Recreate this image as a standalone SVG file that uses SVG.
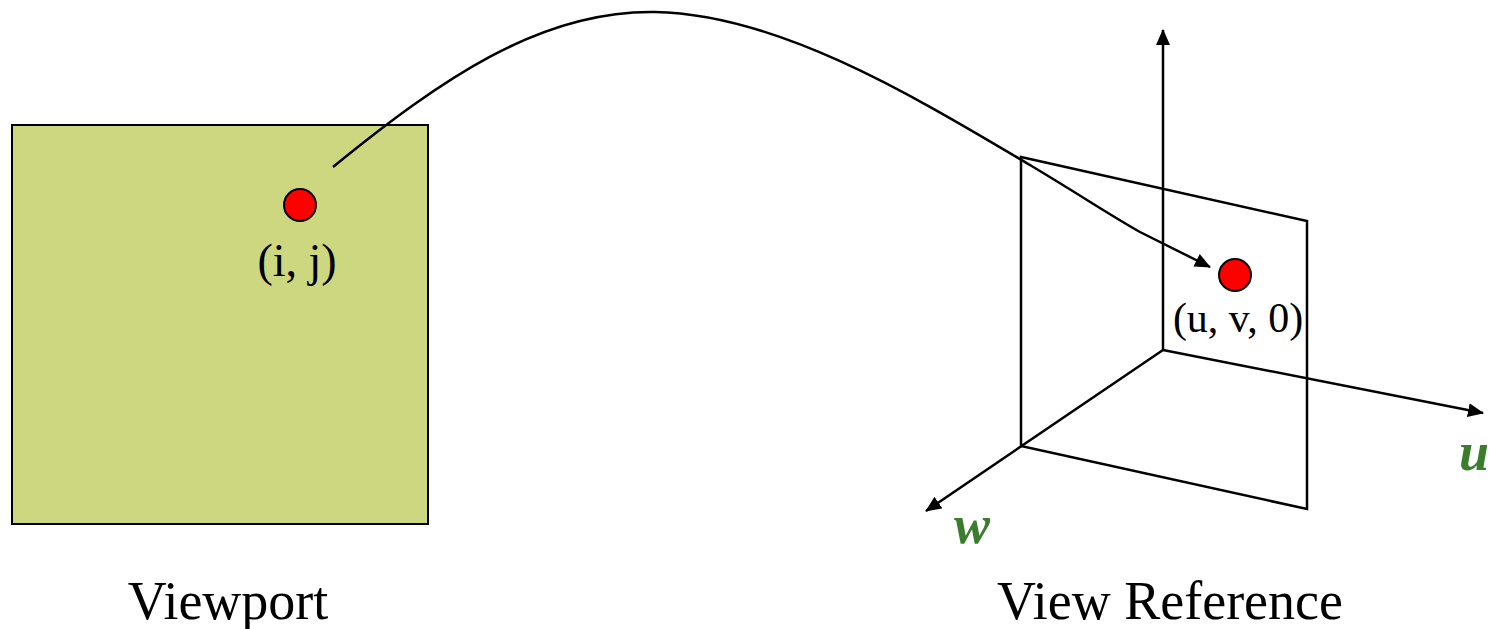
<svg xmlns="http://www.w3.org/2000/svg" width="1495" height="629" viewBox="0 0 1495 629">
<style>
.ln{stroke:#000;stroke-width:2.5;fill:none}
.dot{fill:#ff0000;stroke:#000;stroke-width:2}
.t{font-family:"Liberation Serif","Times New Roman",serif;fill:#000}
.ax{font-family:"Liberation Serif","Times New Roman",serif;font-weight:bold;font-style:italic;fill:#3a7d2c;font-size:54px}
</style>
<defs>
<marker id="ah2" viewBox="0 0 16 14" markerWidth="16" markerHeight="14" refX="15" refY="7" orient="auto" markerUnits="userSpaceOnUse">
<path d="M0,0 L16,7 L0,14 z" fill="#000"/>
</marker>
</defs>
<g id="viewport">
<rect x="12" y="125" width="416" height="399" fill="#ccd77f" stroke="#000" stroke-width="2"/>
<circle class="dot" cx="300" cy="205" r="16"/>
<text class="t" x="297" y="276" font-size="46" text-anchor="middle">(i, j)</text>
<text class="t" x="228" y="619" font-size="54" text-anchor="middle">Viewport</text>
</g>
<g id="view-reference">
<path class="ln" d="M1021,157 L1307,221 L1307,509 L1021,446 Z"/>
<circle class="dot" cx="1235" cy="275" r="16"/>
<text class="t" x="1238" y="332" font-size="42" text-anchor="middle">(u, v, 0)</text>
<text class="t" x="1170" y="619" font-size="54" text-anchor="middle">View Reference</text>
</g>
<g id="axes">
<line class="ln" x1="1163" y1="350" x2="1163" y2="30" marker-end="url(#ah2)"/>
<line class="ln" x1="1163" y1="350" x2="1483" y2="413" marker-end="url(#ah2)"/>
<line class="ln" x1="1163" y1="350" x2="926" y2="511" marker-end="url(#ah2)"/>
<text class="ax" x="1474" y="470" text-anchor="middle">u</text>
<text class="ax" x="972" y="543" text-anchor="middle">w</text>
</g>
<g id="connectors">
<path class="ln" d="M333,167 C440,80 540,10 655,12 C780,14 920,100 1030,165 C1080,195 1110,215 1140,232 L1210,267" marker-end="url(#ah2)"/>
</g>
</svg>
